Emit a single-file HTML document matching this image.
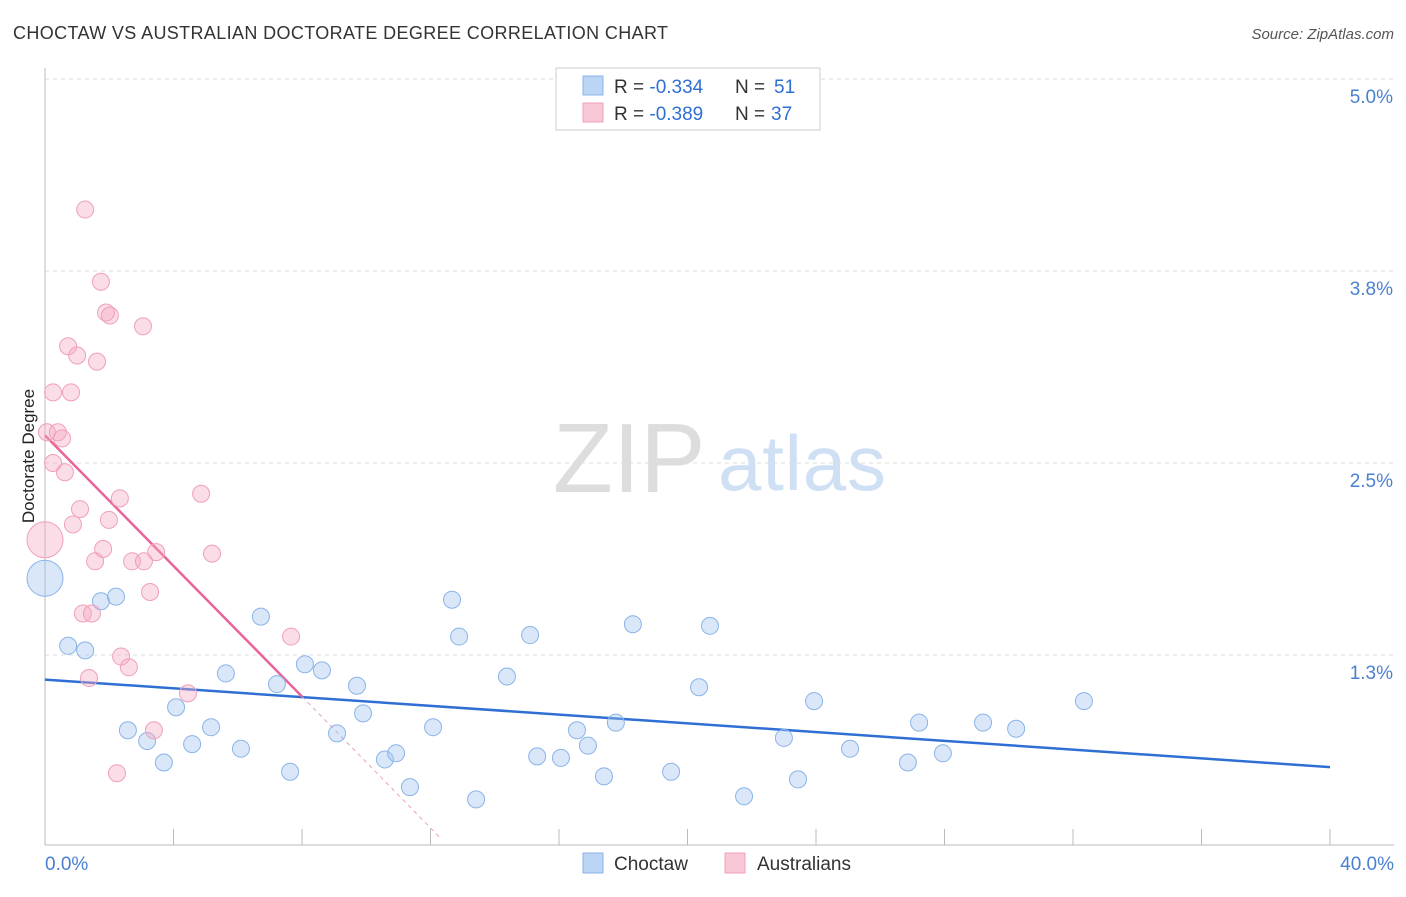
<!DOCTYPE html>
<html><head><meta charset="utf-8"><style>
body{margin:0;background:#fff;font-family:"Liberation Sans",sans-serif;}
svg text{font-family:"Liberation Sans",sans-serif;}
</style></head><body>
<svg id="c" width="1406" height="892">
<text x="13" y="39" font-size="18" fill="#333" textLength="655">CHOCTAW VS AUSTRALIAN DOCTORATE DEGREE CORRELATION CHART</text>
<text x="1394" y="39" font-size="15" fill="#555" text-anchor="end" font-style="italic">Source: ZipAtlas.com</text>
<text transform="translate(34,456) rotate(-90)" font-size="17" fill="#222" text-anchor="middle">Doctorate Degree</text>
<text x="553" y="492" font-size="98" fill="#ddd" font-family="Liberation Serif">ZIP</text>
<text x="718" y="490" font-size="78" fill="#cfe0f5" textLength="168">atlas</text>
<g id="grid"></g><g id="axes"></g><g id="lines"></g><g id="pts"></g>
<g>
<rect x="556" y="68" width="264" height="62" fill="#fff" stroke="#ccc"/>
<rect x="583" y="76" width="20" height="19" fill="#bcd5f5" stroke="#8ab4e8"/>
<rect x="583" y="103" width="20" height="19" fill="#f9c8d7" stroke="#f0a0b8"/>
<text x="614" y="93" font-size="19" fill="#333">R = <tspan fill="#2f6fd4">-0.334</tspan></text>
<text x="735" y="93" font-size="19" fill="#333">N = </text><text x="774" y="93" font-size="19" fill="#2f6fd4">51</text>
<text x="614" y="120" font-size="19" fill="#333">R = <tspan fill="#2f6fd4">-0.389</tspan></text>
<text x="735" y="120" font-size="19" fill="#333">N = </text><text x="771" y="120" font-size="19" fill="#2f6fd4">37</text>
</g>
<g>
<rect x="583" y="853" width="20" height="20" fill="#bcd5f5" stroke="#8ab4e8"/>
<text x="614" y="870" font-size="19" fill="#333">Choctaw</text>
<rect x="725" y="853" width="20" height="20" fill="#f9c8d7" stroke="#f0a0b8"/>
<text x="757" y="870" font-size="19" fill="#333">Australians</text>
</g>
<text x="45" y="870" font-size="19" fill="#4a80d0">0.0%</text>
<text x="1394" y="870" font-size="19" fill="#4a80d0" text-anchor="end">40.0%</text>
</svg>
<script>
const yTicks=[1.25,2.5,3.75,5.0];
const yTickLabels=["1.3%","2.5%","3.8%","5.0%"];
const choctawX=[0,0.72,1.25,1.74,2.21,2.58,3.18,3.70,4.08,4.58,5.17,5.63,6.10,6.72,7.22,7.63,8.09,8.62,9.09,9.71,9.90,10.58,10.93,11.36,12.08,12.67,12.89,13.42,14.38,15.10,15.32,16.06,16.56,16.90,17.40,17.77,18.30,19.49,20.36,20.70,21.76,23.00,23.44,23.94,25.06,26.86,27.21,27.95,29.20,30.23,32.34];
const choctawY=[1.75,1.31,1.28,1.60,1.63,0.76,0.69,0.55,0.91,0.67,0.78,1.13,0.64,1.50,1.06,0.49,1.19,1.15,0.74,1.05,0.87,0.57,0.61,0.39,0.78,1.61,1.37,0.31,1.11,1.38,0.59,0.58,0.76,0.66,0.46,0.81,1.45,0.49,1.04,1.44,0.33,0.71,0.44,0.95,0.64,0.55,0.81,0.61,0.81,0.77,0.95];
const ausX=[0,0.06,0.25,0.40,0.53,0.25,0.62,0.72,0.81,1.00,1.25,0.87,1.09,1.18,1.37,1.46,1.56,1.62,1.74,1.81,1.90,2.02,1.99,2.24,2.33,2.37,2.61,2.71,3.05,3.08,3.27,3.39,3.46,4.45,4.86,5.20,7.66];
const ausY=[2.00,2.70,2.96,2.70,2.66,2.50,2.44,3.26,2.96,3.20,4.15,2.10,2.20,1.52,1.10,1.52,1.86,3.16,3.68,1.94,3.48,3.46,2.13,0.48,2.27,1.24,1.17,1.86,3.39,1.86,1.66,0.76,1.92,1.00,2.30,1.91,1.37];
const blueTrend=[[0,1.09],[40,0.52]];
const pinkTrend=[[0,2.68],[8,0.98],[12.3,0.06]];
const NS="http://www.w3.org/2000/svg";
const sx=v=>45+v/40*1285, sy=v=>847-v*153.6;
function mk(t,a,p){const e=document.createElementNS(NS,t);for(const k in a)e.setAttribute(k,a[k]);document.getElementById(p).appendChild(e);return e;}
yTicks.forEach((t,i)=>{
 const g=mk('line',{x1:45,x2:1394,y1:sy(t),y2:sy(t),stroke:'#ddd','stroke-dasharray':'4,4'},'grid');
 
 
 const l=mk('text',{x:1393,y:sy(t)+24,'font-size':19,fill:'#4a80d0','text-anchor':'end'},'grid');
 l.textContent=yTickLabels[i];
 
 
});
const topGrid=mk('line',{x1:45,x2:1394,y1:79,y2:79,stroke:'#ddd','stroke-dasharray':'4,4'},'grid');


const ya=mk('line',{x1:45,x2:45,y1:68,y2:845,stroke:'#bbb'},'axes');


const xa=mk('line',{x1:45,x2:1394,y1:845,y2:845,stroke:'#bbb'},'axes');


for(let i=0;i<=10;i++){const t=mk('line',{x1:sx(i*4),x2:sx(i*4),y1:829,y2:845,stroke:'#bbb'},'axes');
 
 }
function dots(X,Y,fill,stroke,name){X.forEach((x,i)=>{const c=mk('circle',{cx:sx(x),cy:sy(Y[i]),r:i==0?18:8.5,fill:fill,stroke:stroke,'stroke-width':1},'pts');
 
 });}
dots(choctawX,choctawY,'rgba(160,196,240,0.4)','#8ab4e8','choctaw-point');
dots(ausX,ausY,'rgba(245,170,195,0.4)','#f0a0b8','australians-point');
const bl=mk('line',{x1:sx(blueTrend[0][0]),y1:sy(blueTrend[0][1]),x2:sx(blueTrend[1][0]),y2:sy(blueTrend[1][1]),stroke:'#2f6fd4','stroke-width':2.5},'lines');


const pl=mk('line',{x1:sx(pinkTrend[0][0]),y1:sy(pinkTrend[0][1]),x2:sx(pinkTrend[1][0]),y2:sy(pinkTrend[1][1]),stroke:'#e8649a','stroke-width':2.5},'lines');


const pd=mk('line',{x1:sx(pinkTrend[1][0]),y1:sy(pinkTrend[1][1]),x2:sx(pinkTrend[2][0]),y2:sy(pinkTrend[2][1]),stroke:'#e8a0b8','stroke-width':1,'stroke-dasharray':'4,4'},'lines');


</script>
</body></html>
